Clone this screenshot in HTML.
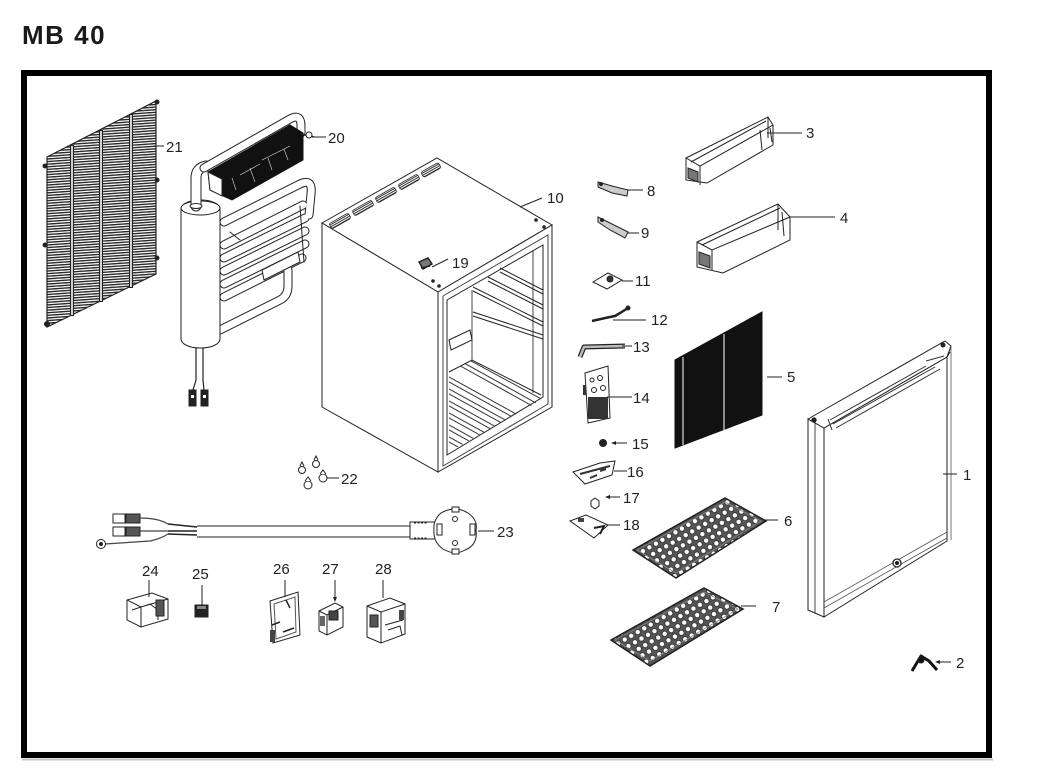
<!DOCTYPE html>
<html><head><meta charset="utf-8">
<style>
html,body{margin:0;padding:0;background:#fff;}
svg{display:block}
text{font-family:"Liberation Sans",Arial,sans-serif;fill:#222;}
</style></head>
<body>
<svg width="1045" height="768" viewBox="0 0 1045 768" xmlns="http://www.w3.org/2000/svg">
<defs>
<pattern id="hl" width="8" height="2.6" patternUnits="userSpaceOnUse" patternTransform="rotate(-4)"><rect width="8" height="1.4" fill="#2a2a2a"/></pattern>
<pattern id="dots" width="7.5" height="7.5" patternUnits="userSpaceOnUse" patternTransform="rotate(-30)"><rect width="7.5" height="7.5" fill="#555"/><circle cx="3.75" cy="3.75" r="2.6" fill="#fff" stroke="#222" stroke-width="0.7"/></pattern>
<pattern id="vent" width="4" height="2" patternUnits="userSpaceOnUse"><rect width="4" height="1" fill="#333"/></pattern>
<clipPath id="floorclip"><polygon points="449,372 472,360 541,395 541,400 449,452"/></clipPath>
</defs>
<rect width="1045" height="768" fill="#fff"/>

<!-- Title -->
<text x="22" y="44" font-size="26" font-weight="bold" letter-spacing="1.5" style="fill:#1a1a1a">MB 40</text>

<!-- Frame -->
<rect x="24" y="73" width="965" height="682" fill="none" stroke="#000" stroke-width="6"/>
<line x1="22" y1="759.5" x2="993" y2="759.5" stroke="#c4c4c4" stroke-width="2"/>

<g fill="none" stroke="#222" stroke-width="1">

<!-- 21 Grille -->
<polygon points="47,157 156,101 156,274 47,327" fill="url(#hl)" stroke="#222" stroke-width="1.2"/>
<g stroke="#222" stroke-width="4"><line x1="72" y1="145" x2="72" y2="316"/><line x1="101" y1="130" x2="101" y2="302"/><line x1="131" y1="114" x2="131" y2="288"/></g>
<g stroke="#fff" stroke-width="1.6"><line x1="72" y1="146" x2="72" y2="315"/><line x1="101" y1="131" x2="101" y2="301"/><line x1="131" y1="115" x2="131" y2="287"/></g>
<g fill="#222"><circle cx="157" cy="102" r="2"/><circle cx="157" cy="180" r="2"/><circle cx="157" cy="258" r="2"/><circle cx="45" cy="166" r="2"/><circle cx="45" cy="245" r="2"/><circle cx="47" cy="324" r="2.5"/></g>

<!-- 20 Condensing unit -->
<g stroke-linecap="round" stroke-linejoin="round">
 <g stroke="#222" stroke-width="9">
  <path d="M224,222 L300,184 Q313,178 311,194 L309,215"/>
  <path d="M224,245 L303,205"/><path d="M224,258 L305,218"/><path d="M224,271 L305,231"/><path d="M224,284 L305,244"/><path d="M224,297 L302,258"/>
  <path d="M220,330 L280,300 Q288,296 288,286 L288,270"/>
 </g>
 <g stroke="#fff" stroke-width="7">
  <path d="M224,222 L300,184 Q313,178 311,194 L309,215"/>
  <path d="M224,245 L303,205"/><path d="M224,258 L305,218"/><path d="M224,271 L305,231"/><path d="M224,284 L305,244"/><path d="M224,297 L302,258"/>
  <path d="M220,330 L280,300 Q288,296 288,286 L288,270"/>
 </g>
 <path d="M262,270 L298,252 L300,262 L264,280 Z" fill="#fff" stroke="#222"/>
 <path d="M230,232 L240,240 M300,206 L304,262" stroke="#222"/>
</g>
<rect x="181" y="200" width="39" height="148" rx="19" ry="9" fill="#fff" stroke="#222"/>
<ellipse cx="200.5" cy="208" rx="19.5" ry="7" fill="#fff" stroke="#222"/>
<g stroke-linecap="round" stroke-linejoin="round">
 <path d="M196,206 L196,178 Q196,168 206,166" stroke="#222" stroke-width="11"/>
 <path d="M196,206 L196,178 Q196,168 206,166" stroke="#fff" stroke-width="9"/>
 <path d="M204,168 L290,119 Q301,113 301,126 L301,133" stroke="#222" stroke-width="9"/>
 <path d="M204,168 L290,119 Q301,113 301,126 L301,133" stroke="#fff" stroke-width="7"/>
</g>
<ellipse cx="196" cy="206" rx="6" ry="2.5" fill="#fff" stroke="#222"/>
<polygon points="208,172 290,125 303,133 303,160 232,200 210,190" fill="#111" stroke="#111"/>
<polygon points="208,172 222,179 222,196 210,190" fill="#fff" stroke="#222"/>
<g stroke="#ddd" stroke-width="0.6"><path d="M232,178 L236,190 M250,168 L255,182 M268,158 L272,170 M284,149 L288,160 M240,175 L260,164 M262,160 L290,146"/></g>
<path d="M301,134 L314,137" stroke="#222" stroke-width="1.5"/>
<circle cx="309" cy="135" r="3" fill="#fff" stroke="#222"/>
<!-- wires -->
<path d="M196,348 L196,380 L193,390 M203,348 L203,380 L204,390" stroke="#222" stroke-width="1.2"/>
<rect x="189" y="390" width="7" height="16" fill="#222"/><rect x="201" y="390" width="7" height="16" fill="#222"/>
<g fill="#fff" stroke="none"><rect x="191" y="395" width="3" height="3"/><rect x="203" y="395" width="3" height="3"/></g>

<!-- 10 Cabinet -->
<polygon points="322,223 437,158 552,225 438,292" fill="#fff" stroke="#222"/>
<polygon points="322,223 438,292 438,472 322,407" fill="#fff" stroke="#222"/>
<polygon points="438,292 552,225 552,407 438,472" fill="#fff" stroke="#222"/>
<polyline points="443,296 548,235 548,404 443,466 443,296" stroke="#444"/>
<polygon points="447,300 543,245 543,397 447,455" fill="#fff" stroke="#222"/>
<!-- vents -->
<g fill="url(#vent)" stroke="#222" stroke-width="0.8">
 <rect x="-11" y="-3" width="22" height="6" rx="2" transform="translate(340,221) rotate(-29.5)"/>
 <rect x="-11" y="-3" width="22" height="6" rx="2" transform="translate(363,208) rotate(-29.5)"/>
 <rect x="-11" y="-3" width="22" height="6" rx="2" transform="translate(386,195) rotate(-29.5)"/>
 <rect x="-11" y="-3" width="22" height="6" rx="2" transform="translate(409,182) rotate(-29.5)"/>
 <rect x="-10" y="-3" width="20" height="6" rx="2" transform="translate(431,170) rotate(-29.5)"/>
</g>
<g fill="#222" stroke="none"><circle cx="536" cy="220" r="1.8"/><circle cx="544" cy="227" r="1.8"/><circle cx="433" cy="281" r="1.8"/><circle cx="439" cy="286" r="1.8"/></g>
<!-- interior -->
<line x1="533" y1="250" x2="533" y2="393" stroke="#444"/>
<line x1="472" y1="290" x2="472" y2="360" stroke="#444"/>
<g stroke="#222" stroke-width="1">
 <path d="M500,268 L543,290 M500,272 L543,294"/>
 <path d="M488,277 L543,305 M488,281 L543,309"/>
 <path d="M473,287 L543,322 M473,291 L543,326"/>
 <path d="M473,312 L543,335 M473,316 L543,339"/>
</g>
<path d="M449,340 L470,330 L472,340 L451,350 Z" fill="#fff" stroke="#222"/>
<path d="M449,372 L472,360 L541,395" stroke="#222"/>
<g clip-path="url(#floorclip)" stroke="#333" stroke-width="1">
 <path d="M440,372 L545,430 M440,377 L545,435"/>
 <path d="M440,384 L545,442 M440,389 L545,447"/>
 <path d="M440,396 L545,454 M440,401 L545,459"/>
 <path d="M440,408 L545,466 M440,413 L545,471"/>
 <path d="M440,420 L545,478 M440,425 L545,483"/>
 <path d="M440,432 L545,490 M440,437 L545,495"/>
 <path d="M455,358 L545,408 M455,363 L545,413"/>
 <path d="M460,350 L545,396 M460,355 L545,401"/>
</g>
<!-- 19 -->
<path d="M419,262 L428,258 L432,264 L423,269 Z M421,268 L430,266" stroke="#222" stroke-width="1.5" fill="#777"/>

<!-- 22 feet -->
<g fill="#fff" stroke="#222">
 <circle cx="302" cy="470" r="3.5"/><path d="M300,466 L302,462 L304,466"/>
 <circle cx="316" cy="464" r="3.5"/><path d="M314,460 L316,456 L318,460"/>
 <circle cx="323" cy="478" r="4"/><path d="M320,474 L323,470 L326,474"/>
 <circle cx="308" cy="485" r="4"/><path d="M305,481 L308,477 L311,481"/>
</g>

<!-- 23 Power cord -->
<path d="M197,526 L410,526 M197,537 L410,537" stroke="#222"/>
<path d="M168,524 L197,527 M168,531 L197,531 M168,534 L197,535" stroke="#222" stroke-width="1.4"/>
<path d="M140,518 Q158,518 168,524 M140,531 L168,531 M105,544 L150,541 Q160,539 168,534" stroke="#444" stroke-width="1.2"/>
<rect x="113" y="514" width="12" height="9" fill="#fff" stroke="#222"/><rect x="126" y="514" width="14" height="9" fill="#555" stroke="#222"/>
<rect x="113" y="527" width="12" height="9" fill="#fff" stroke="#222"/><rect x="126" y="527" width="14" height="9" fill="#555" stroke="#222"/>
<circle cx="101" cy="544" r="4.5" fill="#fff" stroke="#222"/><circle cx="101" cy="544" r="1.5" fill="#222"/>
<rect x="410" y="522" width="26" height="17" fill="#fff" stroke="#222"/>
<path d="M414,523 L428,523 M414,538 L428,538" stroke="#222" stroke-dasharray="2,1.5"/>
<path d="M441,513 Q455,505 468,513 Q478,520 476,530 Q478,545 465,550 Q455,556 443,549 Q433,542 434,530 Q433,520 441,513 Z" fill="#fff" stroke="#222"/>
<rect x="452" y="507" width="7" height="5" fill="#fff" stroke="#222"/>
<rect x="452" y="549" width="7" height="5" fill="#fff" stroke="#222"/>
<rect x="437" y="524" width="5" height="11" fill="#fff" stroke="#222"/>
<rect x="470" y="524" width="5" height="11" fill="#fff" stroke="#222"/>
<circle cx="455" cy="519" r="2.5" fill="#fff" stroke="#222"/><circle cx="455" cy="543" r="2.5" fill="#fff" stroke="#222"/>

<!-- 24 -->
<polygon points="127,600 152,593 168,599 168,619 141,627 127,620" fill="#fff" stroke="#222"/>
<path d="M127,600 L141,607 L168,599 M141,607 L141,627 M132,610 L150,604 L158,610 L158,620" stroke="#222"/>
<rect x="156" y="600" width="8" height="16" fill="#555" stroke="#222"/>
<!-- 25 -->
<rect x="195" y="605" width="13" height="12" fill="#222" stroke="#222"/>
<rect x="197" y="606" width="9" height="3" fill="#888" stroke="none"/>
<!-- 26 -->
<polygon points="270,601 298,592 300,635 273,643" fill="#fff" stroke="#222"/>
<polygon points="274,604 295,597 296,632 276,639" fill="none" stroke="#555"/>
<path d="M272,625 L280,622 M286,600 L290,608 M283,632 L294,628" stroke="#222" stroke-width="1.5"/>
<rect x="270" y="630" width="5" height="12" fill="#444" stroke="none"/>
<!-- 27 -->
<polygon points="319,611 335,603 343,607 343,627 327,635 319,631" fill="#fff" stroke="#222"/>
<path d="M319,611 L327,615 L343,607 M327,615 L327,635" stroke="#222"/>
<rect x="329" y="611" width="9" height="9" fill="#444" stroke="#222"/>
<rect x="320" y="616" width="5" height="10" fill="#666" stroke="none"/>
<!-- 28 -->
<polygon points="367,606 390,598 405,604 405,634 381,643 367,637" fill="#fff" stroke="#222"/>
<path d="M367,606 L381,612 L405,604 M381,612 L381,643 M385,625 L403,620 M388,630 L400,626 L402,635" stroke="#222"/>
<rect x="370" y="615" width="8" height="12" fill="#555" stroke="#222"/>
<rect x="399" y="610" width="5" height="10" fill="#444" stroke="none"/>

<!-- 3 door shelf -->
<polygon points="686,158 768,117 773,125 773,145 707,183 686,180" fill="#fff" stroke="#222"/>
<path d="M686,158 L700,166 L773,125 M700,166 L700,185 M691,162 L766,121 M768,117 L768,138 M760,130 L762,150" stroke="#222"/>
<path d="M688,168 L698,172 L698,182 L688,178 Z M770,128 L772,142" stroke="#222" fill="#777"/>
<!-- 4 door shelf -->
<polygon points="697,242 778,204 790,217 790,240 723,273 697,267" fill="#fff" stroke="#222"/>
<path d="M697,242 L712,250 L790,217 M712,250 L712,270 M702,245 L780,208 M778,204 L778,230 M782,212 L784,236" stroke="#222"/>
<path d="M699,252 L710,256 L710,268 L699,264 Z" stroke="#222" fill="#777"/>

<!-- 8 -->
<path d="M598,182 L612,186 L628,190 L627,196 L612,193 L598,187 Z" fill="#ccc" stroke="#222"/>
<circle cx="601" cy="184" r="1.5" fill="#222"/>
<!-- 9 -->
<path d="M598,217 L612,224 L628,232 L625,238 L610,230 L598,222 Z" fill="#ccc" stroke="#222"/>
<circle cx="602" cy="220" r="1.5" fill="#222"/>
<!-- 11 -->
<polygon points="593,282 608,273 622,280 607,289" fill="#fff" stroke="#222"/>
<circle cx="610" cy="279" r="3" fill="#333"/>
<!-- 12 -->
<path d="M592,321 Q605,318 615,316 Q622,312 628,308" stroke="#222" stroke-width="2.5"/>
<circle cx="628" cy="308" r="2" fill="#222"/>
<!-- 13 -->
<path d="M580,357 L584,347 L625,346" stroke="#222" stroke-width="5" stroke-linejoin="round"/>
<path d="M580,357 L584,347 L625,346" stroke="#bbb" stroke-width="2.5" stroke-linejoin="round"/>
<!-- 14 -->
<polygon points="585,373 608,366 610,418 588,423" fill="#fff" stroke="#222"/>
<rect x="588" y="397" width="20" height="22" fill="#333" stroke="none"/>
<g fill="#fff" stroke="#222"><circle cx="592" cy="380" r="2"/><circle cx="600" cy="378" r="2.5"/><circle cx="594" cy="390" r="2.5"/><circle cx="603" cy="388" r="2.5"/></g>
<rect x="583" y="385" width="3" height="10" fill="#333" stroke="none"/>
<!-- 15 -->
<circle cx="603" cy="443" r="3.5" fill="#222"/>
<!-- 16 -->
<polygon points="573,472 600,463 615,461 612,475 585,484" fill="#fff" stroke="#222"/>
<path d="M580,474 L610,466 M590,478 L597,475 M600,471 L606,469" stroke="#333" stroke-width="2"/>
<!-- 17 -->
<polygon points="591,501 595,498 599,501 599,506 595,509 591,506" fill="#fff" stroke="#222"/>
<!-- 18 -->
<polygon points="570,521 586,515 608,525 594,538" fill="#fff" stroke="#222"/>
<rect x="578" y="518" width="6" height="4" fill="#444" stroke="none"/>
<path d="M594,528 L604,526 L600,534" stroke="#222" stroke-width="2"/>

<!-- 5 insulation panel -->
<polygon points="675,360 762,312 762,415 675,448" fill="#111" stroke="#111"/>
<line x1="683" y1="357" x2="683" y2="445" stroke="#ddd" stroke-width="1.2"/>
<line x1="724" y1="334" x2="724" y2="430" stroke="#ddd" stroke-width="1.2"/>

<!-- 6 tray -->
<polygon points="633,550 725,498 766,521 676,578" fill="url(#dots)" stroke="#222" stroke-width="1.5"/>
<polygon points="637,550 725,502 761,521 676,573" fill="none" stroke="#888" stroke-width="0.8"/>
<!-- 7 tray -->
<polygon points="611,640 704,588 743,609 650,666" fill="url(#dots)" stroke="#222" stroke-width="1.5"/>
<polygon points="615,640 704,592 738,609 650,661" fill="none" stroke="#888" stroke-width="0.8"/>

<!-- 1 door -->
<polygon points="808,419 824,428 824,617 808,610" fill="#fff" stroke="#222"/>
<line x1="815" y1="423" x2="815" y2="614" stroke="#444"/>
<polygon points="824,428 947,357 947,541 824,617" fill="#fff" stroke="#222"/>
<polygon points="808,419 945,341 951,346 947,357 824,428" fill="#fff" stroke="#222"/>
<path d="M830,420 L926,366 M833,424 L935,367 M836,428 L940,369 M828,419 L832,430 M926,361 L944,356" stroke="#333"/>
<path d="M824,428 L824,433 M947,357 L950,352" stroke="#222"/>
<circle cx="814" cy="420" r="2.2" fill="#222"/><circle cx="943" cy="345" r="2" fill="#222"/>
<path d="M824,602 L947,532 M824,608 L947,538" stroke="#555" stroke-width="0.8"/>
<circle cx="897" cy="563" r="4" fill="#fff" stroke="#222" stroke-width="1.3"/><circle cx="897" cy="563" r="1.6" fill="#222"/>
<line x1="947" y1="357" x2="951" y2="346" stroke="#222"/>
<line x1="951" y1="346" x2="951" y2="540" stroke="#555" stroke-width="0.8"/>

<!-- 2 -->
<path d="M912,671 L921,656 L929,661 L937,670" stroke="#111" stroke-width="3" stroke-linejoin="round"/>
<circle cx="921" cy="660" r="3" fill="#111"/>

<!-- leaders -->
<g stroke="#222" stroke-width="1">
 <line x1="154" y1="146" x2="164" y2="146"/>
 <line x1="313" y1="137" x2="326" y2="137"/>
 <line x1="520" y1="207" x2="542" y2="198"/>
 <line x1="432" y1="267" x2="448" y2="259"/>
 <line x1="628" y1="190" x2="643" y2="190"/>
 <line x1="628" y1="233" x2="639" y2="233"/>
 <line x1="767" y1="133" x2="802" y2="133"/>
 <line x1="790" y1="217" x2="835" y2="217"/>
 <line x1="622" y1="281" x2="633" y2="281"/>
 <line x1="613" y1="320" x2="646" y2="320"/>
 <line x1="622" y1="346" x2="632" y2="346"/>
 <line x1="767" y1="377" x2="782" y2="377"/>
 <line x1="607" y1="397" x2="632" y2="397"/>
 <line x1="613" y1="443" x2="627" y2="443"/>
 <line x1="614" y1="471" x2="627" y2="471"/>
 <line x1="607" y1="497" x2="620" y2="497"/>
 <line x1="607" y1="525" x2="620" y2="525"/>
 <line x1="765" y1="520" x2="778" y2="520"/>
 <line x1="943" y1="474" x2="957" y2="474"/>
 <line x1="741" y1="606" x2="756" y2="606"/>
 <line x1="937" y1="662" x2="951" y2="662"/>
 <line x1="327" y1="478" x2="339" y2="478"/>
 <line x1="478" y1="531" x2="494" y2="531"/>
 <line x1="149" y1="580" x2="149" y2="597"/>
 <line x1="202" y1="585" x2="202" y2="605"/>
 <line x1="285" y1="580" x2="285" y2="597"/>
 <line x1="335" y1="580" x2="335" y2="600"/>
 <line x1="383" y1="580" x2="383" y2="598"/>
</g>
<g fill="#222" stroke="none">
 <path d="M611,443 L616,441 L616,445 Z"/>
 <path d="M605,497 L610,495 L610,499 Z"/>
 <path d="M335,602 L333,597 L337,597 Z"/>
 <path d="M935,662 L940,660 L940,664 Z"/>
</g>
</g>

<!-- labels -->
<g font-size="15">
 <text x="166" y="152">21</text>
 <text x="328" y="143">20</text>
 <text x="547" y="203">10</text>
 <text x="452" y="268">19</text>
 <text x="647" y="196">8</text>
 <text x="641" y="238">9</text>
 <text x="806" y="138">3</text>
 <text x="840" y="223">4</text>
 <text x="635" y="286">11</text>
 <text x="651" y="325">12</text>
 <text x="633" y="352">13</text>
 <text x="787" y="382">5</text>
 <text x="633" y="403">14</text>
 <text x="632" y="449">15</text>
 <text x="627" y="477">16</text>
 <text x="623" y="503">17</text>
 <text x="623" y="530">18</text>
 <text x="784" y="526">6</text>
 <text x="963" y="480">1</text>
 <text x="772" y="612">7</text>
 <text x="956" y="668">2</text>
 <text x="341" y="484">22</text>
 <text x="497" y="537">23</text>
 <text x="142" y="576">24</text>
 <text x="192" y="579">25</text>
 <text x="273" y="574">26</text>
 <text x="322" y="574">27</text>
 <text x="375" y="574">28</text>
</g>
</svg>
</body></html>
